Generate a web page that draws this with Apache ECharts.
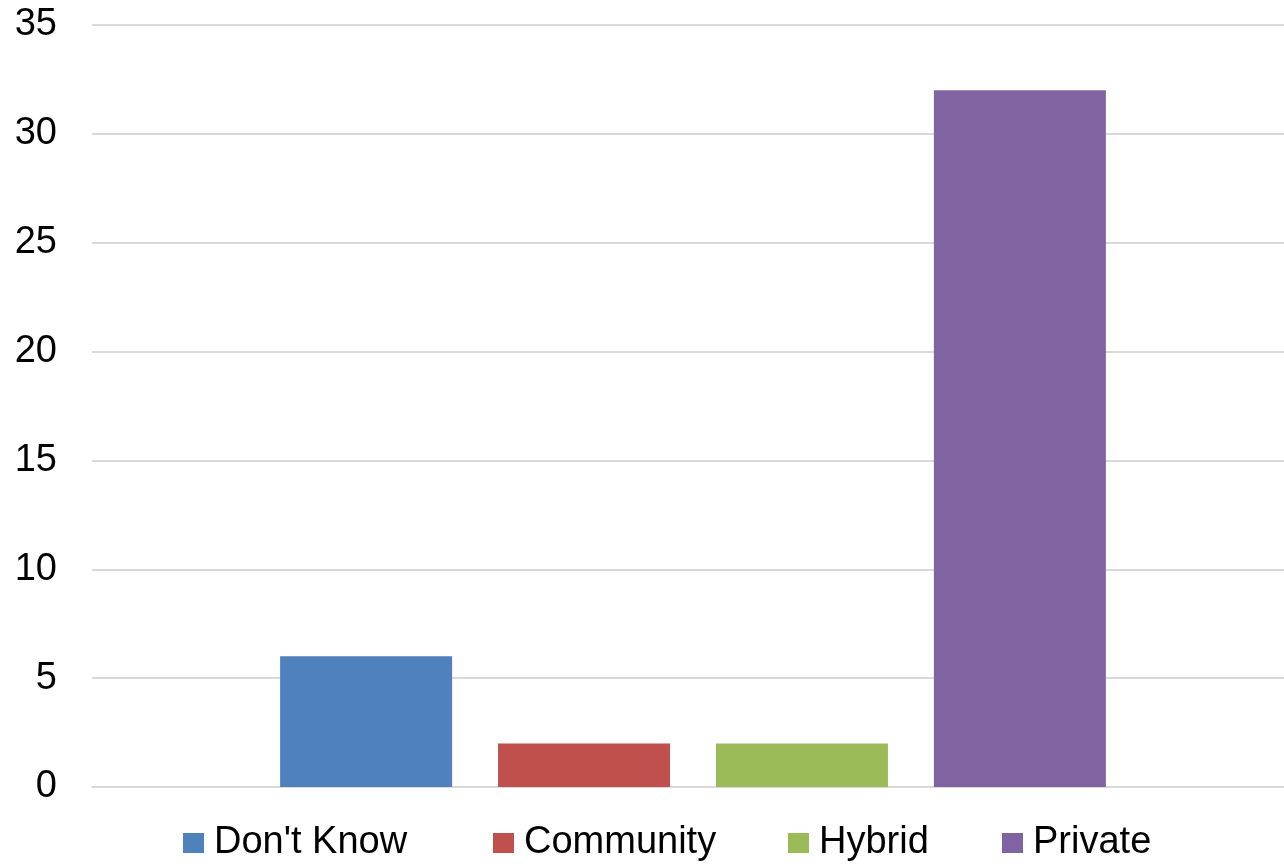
<!DOCTYPE html>
<html>
<head>
<meta charset="utf-8">
<script src="https://cdn.jsdelivr.net/npm/echarts@6/dist/echarts.min.js"></script>
<style>
  html, body { margin: 0; padding: 0; background: #fff; }
  #chart { width: 1284px; height: 866px; }
</style>
</head>
<body>
<div id="chart"></div>
<script>
// One category group, each response drawn as its own series
const categories = [''];
const seriesNames = ["Don't Know", 'Community', 'Hybrid', 'Private'];
const seriesValues = [6, 2, 2, 32];
const seriesColors = ['#4f81bd', '#c0504d', '#9bbb59', '#8064a2'];
const yMin = 0, yMax = 35, yStep = 5;

// horizontal start of each legend entry
const legendLeft = [183, 493, 788, 1002];

const font = 'Liberation Sans, Arial, sans-serif';

const chart = echarts.init(document.getElementById('chart'));
chart.setOption({
  animation: false,
  backgroundColor: '#ffffff',
  // grid 0 carries the axis labels and gridlines, grid 1 holds the bars
  grid: [
    { left: 92, right: 0, top: 25, bottom: 79, containLabel: false },
    { left: 102, right: -10, top: 25, bottom: 79, containLabel: false }
  ],
  legend: seriesNames.map((name, i) => ({
    data: [name],
    top: 824,
    left: legendLeft[i],
    padding: 0,
    itemWidth: 21,
    itemHeight: 20,
    icon: 'rect',
    textStyle: { fontFamily: font, fontSize: 38, color: '#000', padding: [0, 0, 0, 5] }
  })),
  xAxis: [
    {
      gridIndex: 0,
      type: 'category',
      data: categories,
      axisLine: { show: true, lineStyle: { color: '#d9d9d9', width: 2 } },
      axisTick: { show: false },
      axisLabel: { show: false }
    },
    {
      gridIndex: 1,
      type: 'category',
      data: categories,
      axisLine: { show: false },
      axisTick: { show: false },
      axisLabel: { show: false }
    }
  ],
  yAxis: [
    {
      gridIndex: 0,
      type: 'value',
      min: yMin,
      max: yMax,
      interval: yStep,
      axisLine: { show: false },
      axisTick: { show: false },
      axisLabel: { fontFamily: font, fontSize: 38, color: '#000', margin: 35 },
      splitLine: { lineStyle: { color: '#d9d9d9', width: 2 } }
    },
    {
      gridIndex: 1,
      type: 'value',
      min: yMin,
      max: yMax,
      interval: yStep,
      axisLine: { show: false },
      axisTick: { show: false },
      axisLabel: { show: false },
      splitLine: { show: false }
    }
  ],
  series: seriesNames.map((name, i) => ({
    name: name,
    type: 'bar',
    xAxisIndex: 1,
    yAxisIndex: 1,
    data: [seriesValues[i]],
    barWidth: 172,
    barGap: '26.7%',
    itemStyle: { color: seriesColors[i] }
  }))
});
</script>
</body>
</html>
